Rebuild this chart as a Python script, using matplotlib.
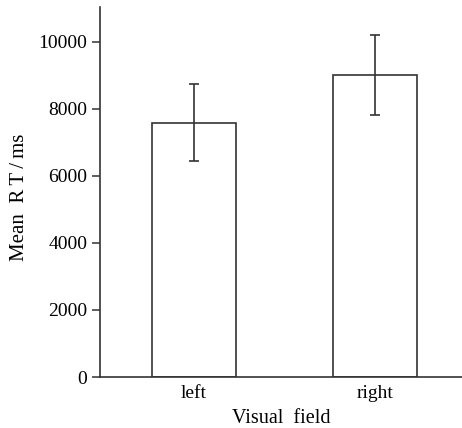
import matplotlib
matplotlib.use("Agg")
import matplotlib.pyplot as plt

categories = ["left", "right"]
means = [7590, 9015]
errors = [1145, 1200]
yticks = [0, 2000, 4000, 6000, 8000, 10000]

plt.rcParams['font.family'] = ['Liberation Serif', 'DejaVu Serif']
col = '#333333'

fig = plt.figure(figsize=(4.62, 4.28), dpi=100)
ax = fig.add_axes([100/462, 51/428, 362/462, 370/428])
x = list(range(len(categories)))
ax.bar(x, means, width=0.464, color='white', edgecolor=col, linewidth=1.2)
ax.errorbar(x, means, yerr=errors, fmt='none', ecolor=col, elinewidth=1.2,
            capsize=3.5, capthick=1.2)
ax.set_xlim(-0.519, 1.48)
ax.set_ylim(0, 11040)
ax.set_yticks(yticks)
ax.set_xticks(x)
ax.set_xticklabels(categories)
for s in ['top', 'right']:
    ax.spines[s].set_visible(False)
for s in ['left', 'bottom']:
    ax.spines[s].set_color(col)
    ax.spines[s].set_linewidth(1.2)
ax.tick_params(axis='y', direction='out', length=6, width=1.1, color=col,
               labelsize=14, pad=3)
ax.tick_params(axis='x', length=0, labelsize=14, pad=6)
ax.set_xlabel("Visual  field", fontsize=14.5, labelpad=5)
ax.set_ylabel("Mean  R\u2009T\u2009/\u2009ms", fontsize=15)
ax.yaxis.set_label_coords(-0.196, 0.486)
fig.savefig("out.png", dpi=100)
